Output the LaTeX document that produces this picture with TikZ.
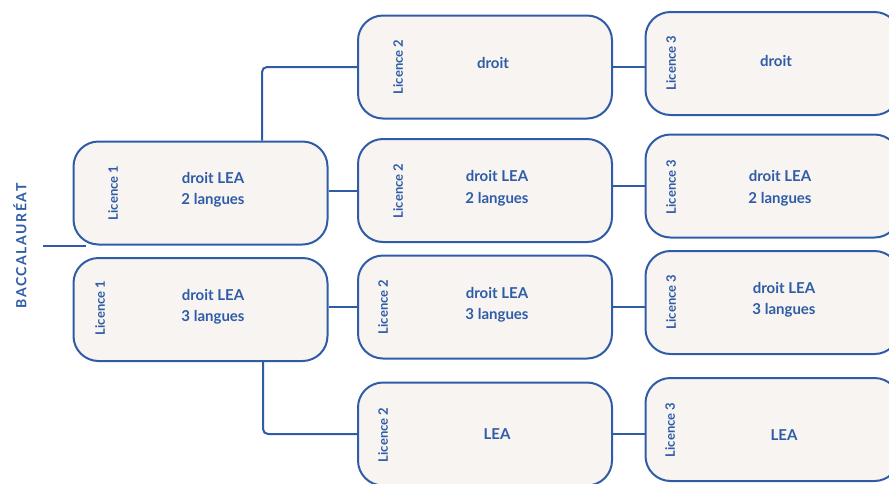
\documentclass[tikz,border=0pt]{standalone}
\usepackage{fontspec}
\setmainfont{Lato}
\usetikzlibrary{positioning}
\definecolor{lblue}{HTML}{2E5CA6}
\definecolor{lfill}{HTML}{F7F4F2}
\tikzset{
  box/.style={draw=lblue, fill=lfill, line width=2pt, rounded corners=25pt,
    minimum width=254pt, minimum height=103pt},
  lic/.style={text=lblue, font=\bfseries\fontsize{13}{15}\selectfont, rotate=90, inner sep=0pt},
  txt/.style={text=lblue, font=\bfseries\fontsize{15}{21.5}\selectfont, align=center, inner sep=0pt},
  link/.style={draw=lblue, line width=2pt},
}
\begin{document}
\begin{tikzpicture}[x=1pt,y=-1pt]
\useasboundingbox (0,0) rectangle (889,483);
% boxes
\node[box] (l1a) at (200.5,193) {};
\node[box] (l1b) at (200.5,309.5) {};
\node[box] (l2a) at (485,67) {};
\node[box] (l2b) at (485,190.5) {};
\node[box] (l2c) at (485,307) {};
\node[box] (l2d) at (485,434) {};
\node[box] (l3a) at (772.5,63.5) {};
\node[box] (l3b) at (772.5,186) {};
\node[box] (l3c) at (772.5,302.5) {};
\node[box] (l3d) at (772.5,429.5) {};
% year labels
\node[lic] (k1a) at (113,193) {Licence 1};
\node[lic] (k1b) at (100,308) {Licence 1};
\node[lic] (k2a) at (398,67) {Licence 2};
\node[lic] (k2b) at (398,191) {Licence 2};
\node[lic] (k2c) at (383,307) {Licence 2};
\node[lic] (k2d) at (383,435) {Licence 2};
\node[lic] (k3a) at (671,63) {Licence 3};
\node[lic] (k3b) at (671,187) {Licence 3};
\node[lic] (k3c) at (671,302) {Licence 3};
\node[lic] (k3d) at (670,430) {Licence 3};
% courses
\node[txt] (t1a) at (213,190) {droit LEA\\2 langues};
\node[txt] (t1b) at (213,307) {droit LEA\\3 langues};
\node[txt] (t2a) at (493,63) {droit};
\node[txt] (t2b) at (497,188.5) {droit LEA\\2 langues};
\node[txt] (t2c) at (497,305) {droit LEA\\3 langues};
\node[txt] (t2d) at (497,434) {LEA};
\node[txt] (t3a) at (776,61) {droit};
\node[txt] (t3b) at (780,188.5) {droit LEA\\2 langues};
\node[txt] (t3c) at (784,300) {droit LEA\\3 langues};
\node[txt] (t3d) at (784,435) {LEA};
% baccalaureat
\node[lic, font=\bfseries\fontsize{14}{16}\selectfont\addfontfeature{LetterSpace=11}] (bac) at (20,246) {BACCALAURÉAT};
\coordinate (bacstart) at (43,246);
\coordinate (bacend) at (86,246);
\draw[link] (bacstart) -- (bacend);
% connectors
\draw[link, rounded corners=5pt] ([xshift=61.5pt]l1a.north) |- (l2a.west);
\draw[link, rounded corners=5pt] ([xshift=62.5pt]l1b.south) |- (l2d.west);
\draw[link] (l2b.west -| l1a.east) -- (l2b.west);
\draw[link] (l2c.west -| l1b.east) -- (l2c.west);
\draw[link] (l2a.east) -- (l2a.east -| l3a.west);
\draw[link] (l3b.west -| l2b.east) -- (l3b.west);
\draw[link] (l2c.east) -- (l2c.east -| l3c.west);
\draw[link] (l2d.east) -- (l2d.east -| l3d.west);
\end{tikzpicture}
\end{document}
